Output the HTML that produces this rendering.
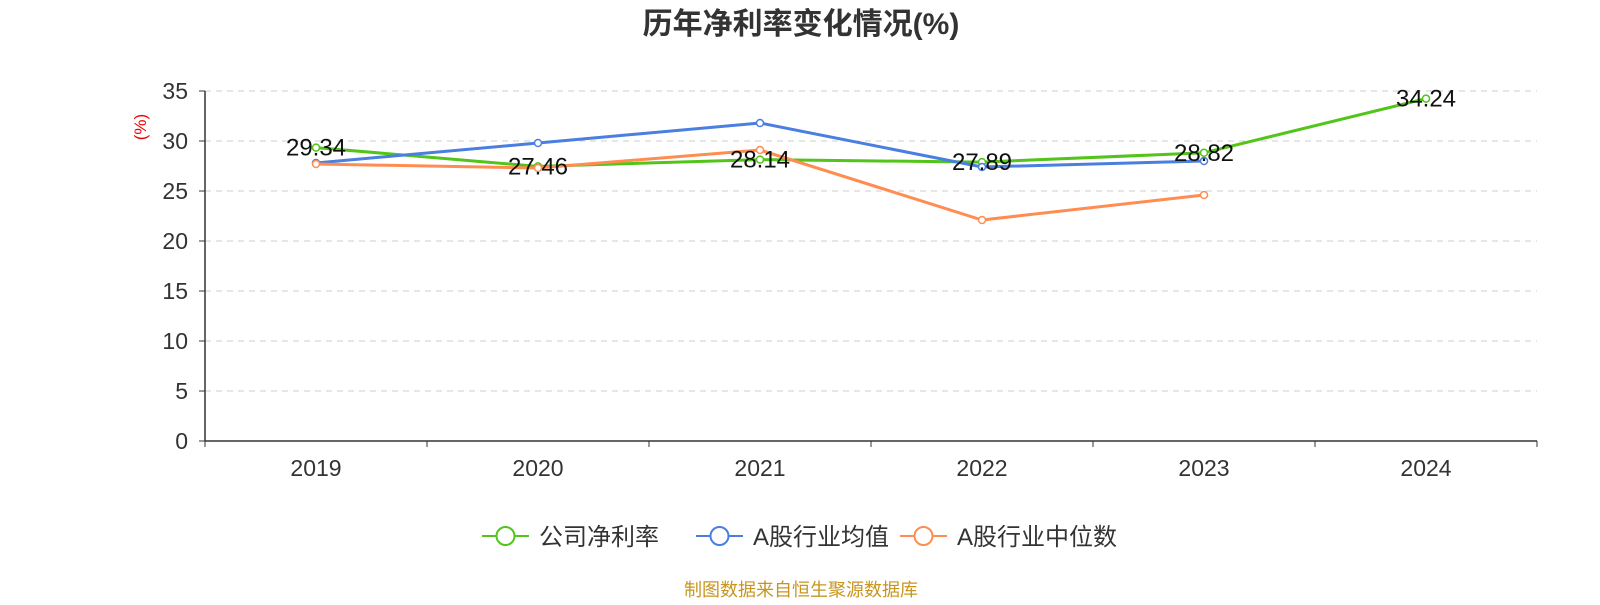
<!DOCTYPE html>
<html><head><meta charset="utf-8"><style>
body{margin:0;background:#fff;font-family:"Liberation Sans","Noto Sans CJK SC",sans-serif}
svg text{font-family:"Liberation Sans","Noto Sans CJK SC",sans-serif}
</style></head><body>
<svg id="c" width="1600" height="600">
<text x="801" y="34" text-anchor="middle" font-size="30" font-weight="bold" fill="#333">历年净利率变化情况(%)</text>
<text x="146" y="127" font-size="17" fill="#e00" transform="rotate(-90 146 127)" text-anchor="middle">(%)</text>
<g id="grid"></g><g id="axes"></g><g id="series"></g><g id="labels"></g>
<g id="legend"></g>
<text x="801" y="596" text-anchor="middle" font-size="18" fill="#c8961e">制图数据来自恒生聚源数据库</text>
</svg>
<script>
const categories=["2019","2020","2021","2022","2023","2024"];
const company=[29.34,27.46,28.14,27.89,28.82,34.24];
const industryAvg=[27.8,29.8,31.8,27.4,28.0,null];
const industryMedian=[27.7,27.3,29.1,22.1,24.6,null];
const yTicks=[0,5,10,15,20,25,30,35];
const seriesNames=["公司净利率","A股行业均值","A股行业中位数"];
const colors=["#52c41a","#4a7ee0","#ff8c50"];
const NS="http://www.w3.org/2000/svg";
const L=205,R=1537,T=91,B=441,maxY=35;
const band=(R-L)/categories.length;
const x=i=>L+band*(i+0.5);
const y=v=>B-(v/maxY)*(B-T);
function mk(tag,at,parent,txt){const e=document.createElementNS(NS,tag);for(const k in at)e.setAttribute(k,at[k]);if(txt!=null)e.textContent=txt;document.getElementById(parent).appendChild(e);return e;}
yTicks.forEach(t=>{
 if(t>0){const g=mk('line',{x1:L,x2:R,y1:y(t),y2:y(t),stroke:'#ccc','stroke-dasharray':'6,5'},'grid');
 
 }
 const tl=mk('text',{x:L-17,y:y(t)+8,'text-anchor':'end','font-size':23,fill:'#333'},'axes',t);
 
 
 mk('line',{x1:L-6,x2:L,y1:y(t),y2:y(t),stroke:'#333'},'axes');
});
mk('line',{x1:L,x2:L,y1:T,y2:B,stroke:'#333','stroke-width':1.5},'axes');
mk('line',{x1:L,x2:R,y1:B,y2:B,stroke:'#333','stroke-width':1.5},'axes');
for(let i=0;i<=categories.length;i++)mk('line',{x1:L+band*i,x2:L+band*i,y1:B,y2:B+6,stroke:'#333'},'axes');
categories.forEach((c,i)=>{const e=mk('text',{x:x(i),y:476,'text-anchor':'middle','font-size':23,fill:'#333'},'axes',c);
 
 });
[company,industryAvg,industryMedian].forEach((data,s)=>{
 const pts=data.map((v,i)=>v==null?null:[x(i),y(v)]).filter(p=>p);
 const pl=mk('polyline',{points:pts.map(p=>p.join(',')).join(' '),fill:'none',stroke:colors[s],'stroke-width':3},'series');
 
 
 pts.forEach(p=>{const c=mk('circle',{cx:p[0],cy:p[1],r:3.5,fill:'#fff',stroke:colors[s],'stroke-width':1.5},'series');
  
  });
});
company.forEach((v,i)=>{const e=mk('text',{x:x(i),y:y(v)+8,'text-anchor':'middle','font-size':24,fill:'#111'},'labels',v.toFixed(2));
 
 });
const lx=[482,696,900];
seriesNames.forEach((n,s)=>{
 const g=mk('g',{},'legend');
 
 
 const a=lx[s];
 const l=document.createElementNS(NS,'line');l.setAttribute('x1',a);l.setAttribute('x2',a+47);l.setAttribute('y1',536);l.setAttribute('y2',536);l.setAttribute('stroke',colors[s]);l.setAttribute('stroke-width',2);g.appendChild(l);
 const c=document.createElementNS(NS,'circle');c.setAttribute('cx',a+23.5);c.setAttribute('cy',536);c.setAttribute('r',9);c.setAttribute('fill','#fff');c.setAttribute('stroke',colors[s]);c.setAttribute('stroke-width',2);g.appendChild(c);
 const t=document.createElementNS(NS,'text');t.setAttribute('x',a+57);t.setAttribute('y',545);t.setAttribute('font-size',24);t.setAttribute('fill','#333');t.textContent=n;g.appendChild(t);
});
</script>
</body></html>
